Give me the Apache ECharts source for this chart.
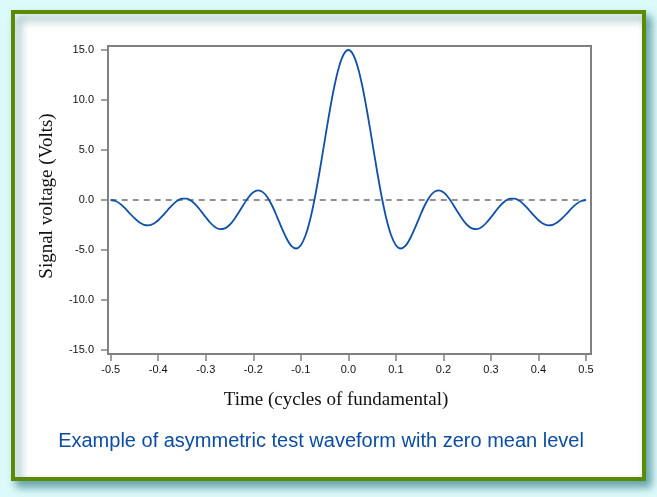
<!DOCTYPE html>
<html>
<head>
<meta charset="utf-8">
<script src="https://cdn.jsdelivr.net/npm/echarts@6/dist/echarts.min.js"></script>
<style>
html,body{margin:0;padding:0;background:#dcfafa;}
#chart{width:657px;height:497px;}
</style>
</head>
<body>
<div id="chart"></div>
<script>
// Time (cycles of fundamental)
const timeValues = [
-0.50,-0.49,-0.48,-0.47,-0.46,-0.45,-0.44,-0.43,-0.42,-0.41,
-0.40,-0.39,-0.38,-0.37,-0.36,-0.35,-0.34,-0.33,-0.32,-0.31,
-0.30,-0.29,-0.28,-0.27,-0.26,-0.25,-0.24,-0.23,-0.22,-0.21,
-0.20,-0.19,-0.18,-0.17,-0.16,-0.15,-0.14,-0.13,-0.12,-0.11,
-0.10,-0.09,-0.08,-0.07,-0.06,-0.05,-0.04,-0.03,-0.02,-0.01,
0.00,
0.01,0.02,0.03,0.04,0.05,0.06,0.07,0.08,0.09,0.10,
0.11,0.12,0.13,0.14,0.15,0.16,0.17,0.18,0.19,0.20,
0.21,0.22,0.23,0.24,0.25,0.26,0.27,0.28,0.29,0.30,
0.31,0.32,0.33,0.34,0.35,0.36,0.37,0.38,0.39,0.40,
0.41,0.42,0.43,0.44,0.45,0.46,0.47,0.48,0.49,0.50
];
// Signal voltage (Volts)
const voltageValues = [
0.00,-0.10,-0.39,-0.82,-1.33,-1.82,-2.23,-2.48,-2.53,-2.37,
-2.02,-1.54,-1.00,-0.48,-0.08,0.14,0.13,-0.10,-0.54,-1.11,
-1.73,-2.30,-2.72,-2.92,-2.84,-2.50,-1.92,-1.19,-0.42,0.28,
0.77,0.96,0.79,0.26,-0.60,-1.68,-2.82,-3.85,-4.59,-4.85,
-4.52,-3.53,-1.88,0.35,3.00,5.87,8.70,11.25,13.26,14.55,
15.00,
14.55,13.26,11.25,8.70,5.87,3.00,0.35,-1.88,-3.53,-4.52,
-4.85,-4.59,-3.85,-2.82,-1.68,-0.60,0.26,0.79,0.96,0.77,
0.28,-0.42,-1.19,-1.92,-2.50,-2.84,-2.92,-2.72,-2.30,-1.73,
-1.11,-0.54,-0.10,0.13,0.14,-0.08,-0.48,-1.00,-1.54,-2.02,
-2.37,-2.53,-2.48,-2.23,-1.82,-1.33,-0.82,-0.39,-0.10,0.00
];
const xTicks = [-0.5,-0.4,-0.3,-0.2,-0.1,0.0,0.1,0.2,0.3,0.4,0.5];
const yTicks = [-15,-10,-5,0,5,10,15];
const zeroLine = [[-0.5,0],[0.5,0]];

const chart = echarts.init(document.getElementById('chart'), null, {renderer:'canvas'});
const axisGray = '#808080';
const labelFont = '"Liberation Sans", Arial, Helvetica, sans-serif';
const serifFont = '"Liberation Serif", "Times New Roman", serif';

chart.setOption({
  backgroundColor: '#dcfafa',
  animation: false,
  graphic: [
    {
      type: 'rect', z: -10, silent: true,
      shape: {x: 13, y: 12, width: 631, height: 467},
      style: {fill: '#ffffff', stroke: '#5b8a04', lineWidth: 4,
        shadowBlur: 8, shadowOffsetX: 5, shadowOffsetY: 6, shadowColor: 'rgba(30,110,120,0.6)'}
    },
    {
      type: 'text', silent: true, x: 47, y: 196, rotation: Math.PI/2,
      style: {text: 'Signal voltage (Volts)', font: '19px ' + serifFont, fill: '#111', align: 'center', verticalAlign: 'middle'}
    },
    {
      type: 'text', silent: true, x: 336, y: 400,
      style: {text: 'Time (cycles of fundamental)', font: '19px ' + serifFont, fill: '#111', align: 'center', verticalAlign: 'middle'}
    },
    {
      type: 'text', silent: true, x: 321, y: 441,
      style: {text: 'Example of asymmetric test waveform with zero mean level', font: '20px ' + labelFont, fill: '#0b4da2', align: 'center', verticalAlign: 'middle'}
    }
  ],
  grid: {left: 108, top: 46, right: 66, bottom: 143, show: true, borderColor: axisGray, borderWidth: 2, backgroundColor: 'transparent'},
  xAxis: {
    type: 'value', min: -0.5057, max: 0.5105,
    axisLine: {show: true, onZero: false, lineStyle: {color: axisGray, width: 2}},
    axisTick: {show: true, inside: false, length: 7, customValues: xTicks, lineStyle: {color: axisGray, width: 1.5}},
    axisLabel: {customValues: xTicks, margin: 10, color: '#111', fontSize: 11, fontFamily: labelFont,
      formatter: v => v.toFixed(1)},
    splitLine: {show: false}
  },
  yAxis: {
    type: 'value', min: -15.4, max: 15.4,
    axisLine: {show: true, onZero: false, lineStyle: {color: axisGray, width: 2}},
    axisTick: {show: true, inside: false, length: 7, customValues: yTicks, lineStyle: {color: axisGray, width: 1.5}},
    axisLabel: {customValues: yTicks, margin: 14, color: '#111', fontSize: 11, fontFamily: labelFont,
      formatter: v => v.toFixed(1)},
    splitLine: {show: false}
  },
  series: [
    {
      type: 'line', data: zeroLine, symbol: 'none', silent: true,
      lineStyle: {color: '#6e6e6e', width: 1.5, type: [6, 5]}
    },
    {
      type: 'line', data: timeValues.map((t, i) => [t, voltageValues[i]]),
      symbol: 'none', smooth: 0.3, silent: true,
      lineStyle: {color: '#1050a8', width: 1.8}
    }
  ]
});
</script>
</body>
</html>
